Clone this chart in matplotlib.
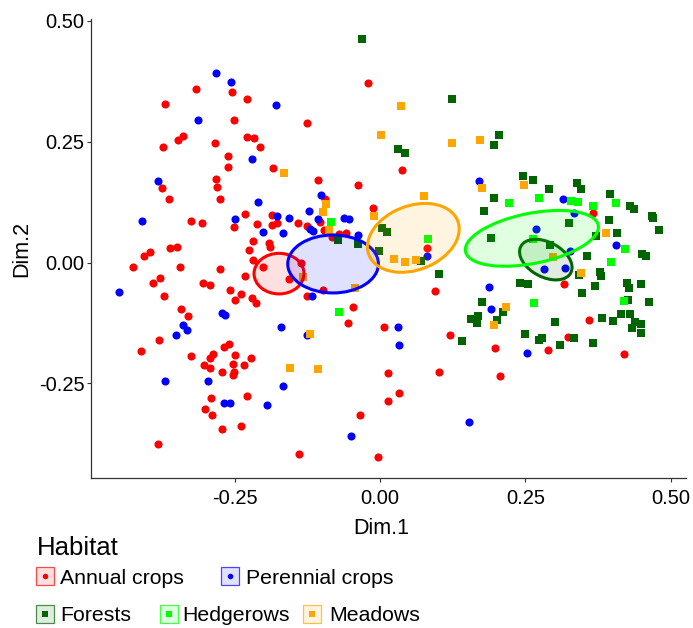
import matplotlib
matplotlib.use("Agg")
import matplotlib.pyplot as plt
from matplotlib.patches import Ellipse, Rectangle
from matplotlib.colors import to_rgba

plt.rcParams['font.family'] = ['Liberation Sans', 'DejaVu Sans']

# ---- data (Dim.1, Dim.2) ----
annual_x = [-0.021, -0.316, -0.255, -0.229, -0.370, -0.252, -0.126, -0.340, -0.347, -0.229,
            -0.217, -0.374, -0.284, -0.207, -0.262, -0.261, -0.184, -0.376, -0.283, -0.280,
            -0.107, -0.038, -0.364, -0.276, -0.095, -0.013, -0.233, -0.186, -0.325, -0.306,
            -0.251, -0.212, -0.186, -0.178, -0.141, -0.103, -0.126, -0.097, -0.082, -0.070,
            -0.059, -0.218, -0.191, -0.190, -0.226, -0.219, -0.362, -0.350, -0.406, -0.396,
            -0.425, -0.345, -0.276, -0.136, -0.202, -0.232, -0.156, -0.391, -0.379, -0.304,
            -0.292, -0.259, -0.240, -0.249, -0.220, -0.213, -0.372, -0.126, -0.099, -0.343,
            -0.330, -0.047, -0.056, 0.007, -0.381, -0.411, -0.326, -0.268, -0.260, -0.288,
            -0.293, -0.250, -0.222, -0.303, -0.292, -0.253, -0.235, -0.272, -0.252, -0.253,
            0.014, -0.291, -0.229, -0.302, -0.289, 0.013, -0.034, -0.272, -0.240, -0.383,
            -0.140, -0.004, 0.037, 0.080, 0.366, 0.316, 0.094, 0.360, 0.121, 0.198,
            0.324, 0.288, 0.420, 0.102, 0.206, 0.033]
annual_y = [0.371, 0.360, 0.353, 0.338, 0.328, 0.295, 0.289, 0.262, 0.254, 0.260,
            0.257, 0.239, 0.247, 0.239, 0.220, 0.197, 0.196, 0.154, 0.173, 0.157,
            0.171, 0.160, 0.131, 0.131, 0.132, 0.113, 0.101, 0.098, 0.086, 0.081,
            0.074, 0.079, 0.078, 0.081, 0.081, 0.083, 0.075, 0.068, 0.052, 0.059,
            0.061, 0.045, 0.040, 0.032, 0.026, 0.006, 0.030, 0.033, 0.014, 0.021,
            -0.010, -0.010, -0.014, -0.001, -0.010, -0.027, -0.034, -0.043, -0.033, -0.043,
            -0.047, -0.056, -0.066, -0.077, -0.073, -0.083, -0.070, -0.070, -0.057, -0.096,
            -0.111, -0.092, -0.125, -0.133, -0.160, -0.184, -0.193, -0.175, -0.168, -0.189,
            -0.198, -0.191, -0.198, -0.213, -0.219, -0.211, -0.212, -0.227, -0.226, -0.233,
            -0.228, -0.281, -0.277, -0.304, -0.315, -0.286, -0.315, -0.345, -0.338, -0.375,
            -0.397, -0.403, 0.191, 0.031, 0.103, -0.045, -0.059, -0.120, -0.151, -0.176,
            -0.154, -0.182, -0.189, -0.226, -0.234, -0.271]

perennial_x = [-0.282, -0.256, -0.179, -0.314, -0.220, -0.382, -0.102, -0.210, -0.178, -0.123,
               -0.156, -0.410, -0.249, -0.107, -0.063, -0.053, -0.120, -0.116, -0.038, -0.202,
               -0.168, -0.449, -0.117, -0.272, -0.267, -0.340, -0.332, -0.352, -0.170, -0.125,
               -0.370, -0.296, -0.168, -0.269, -0.258, -0.194, -0.051, 0.170, 0.314, 0.334,
               0.268, 0.080, 0.326, 0.282, 0.318, 0.406, 0.187, 0.191, 0.030, 0.032,
               0.253, 0.152]
perennial_y = [0.393, 0.374, 0.326, 0.294, 0.214, 0.169, 0.140, 0.125, 0.096, 0.107,
               0.092, 0.086, 0.090, 0.090, 0.092, 0.090, 0.070, 0.065, 0.057, 0.064,
               0.061, -0.061, -0.070, -0.105, -0.108, -0.130, -0.140, -0.151, -0.133, -0.151,
               -0.246, -0.245, -0.255, -0.290, -0.290, -0.295, -0.360, 0.169, 0.132, 0.102,
               0.070, 0.014, 0.024, -0.014, -0.012, 0.036, -0.050, -0.096, -0.133, -0.170,
               -0.187, -0.331]

forests_x = [-0.031, -0.072, -0.038, 0.003, 0.012, -0.002, 0.124, 0.204, 0.195, 0.030,
             0.042, 0.245, 0.263, 0.290, 0.339, 0.345, 0.395, 0.195, 0.430, 0.437,
             0.178, 0.467, 0.470, 0.394, 0.325, 0.480, 0.407, 0.372, 0.190, 0.292,
             0.450, 0.457, 0.356, 0.071, 0.101, 0.342, 0.378, 0.380, 0.241, 0.255,
             0.369, 0.424, 0.428, 0.449, 0.347, 0.175, 0.212, 0.426, 0.463, 0.156,
             0.169, 0.166, 0.201, 0.301, 0.381, 0.400, 0.415, 0.429, 0.439, 0.449,
             0.434, 0.448, 0.140, 0.250, 0.274, 0.279, 0.334, 0.309, 0.367]
forests_y = [0.462, 0.047, 0.039, 0.071, 0.063, 0.024, 0.338, 0.264, 0.243, 0.235,
             0.226, 0.180, 0.170, 0.153, 0.165, 0.153, 0.141, 0.133, 0.117, 0.110,
             0.107, 0.097, 0.092, 0.087, 0.081, 0.068, 0.062, 0.055, 0.050, 0.036,
             0.017, 0.014, 0.013, 0.004, -0.023, -0.025, -0.020, -0.027, -0.043, -0.045,
             -0.048, -0.043, -0.053, -0.045, -0.064, -0.081, -0.103, -0.078, -0.082, -0.116,
             -0.110, -0.126, -0.118, -0.123, -0.114, -0.121, -0.106, -0.106, -0.124, -0.127,
             -0.136, -0.145, -0.162, -0.147, -0.160, -0.157, -0.156, -0.171, -0.167]

hedgerows_x = [-0.084, -0.070, 0.221, 0.274, 0.328, 0.341, 0.367, 0.406, 0.082, 0.263,
               0.422, 0.397, 0.265, 0.419]
hedgerows_y = [0.084, -0.103, 0.123, 0.134, 0.127, 0.125, 0.117, 0.123, 0.048, 0.049,
               0.028, 0.002, -0.084, -0.079]

meadows_x = [0.001, -0.165, -0.094, -0.098, -0.011, -0.088, -0.133, -0.043, -0.121, -0.155,
             -0.107, 0.036, 0.124, 0.172, 0.176, 0.247, 0.076, 0.389, 0.297, 0.024,
             0.043, 0.061, 0.345, 0.216, 0.195]
meadows_y = [0.264, 0.186, 0.122, 0.105, 0.097, 0.068, -0.029, -0.052, -0.147, -0.219,
             -0.220, 0.323, 0.248, 0.254, 0.154, 0.160, 0.138, 0.061, 0.012, 0.007,
             0.002, 0.006, -0.022, -0.092, -0.129]

# confidence ellipses: centre, width, height, angle
ell_cx = [-0.174, -0.081, 0.285, 0.261, 0.057]
ell_cy = [-0.023, -0.003, 0.006, 0.050, 0.051]
ell_w = [0.086, 0.156, 0.103, 0.235, 0.170]
ell_h = [0.084, 0.120, 0.068, 0.103, 0.128]
ell_ang = [0, 0, -39.7, 14.4, 34.2]

groups = ["Annual crops", "Perennial crops", "Forests", "Hedgerows", "Meadows"]
colors = ["#FF0000", "#0000FF", "#006400", "#00FF00", "#FFA500"]
markers = ["o", "o", "s", "s", "s"]
xs = [annual_x, perennial_x, forests_x, hedgerows_x, meadows_x]
ys = [annual_y, perennial_y, forests_y, hedgerows_y, meadows_y]

fig = plt.figure(figsize=(6.93, 6.28), dpi=100)
ax = fig.add_axes([0.1317, 0.2389, 0.8589, 0.7308])

for i in range(len(groups)):
    size = 34 if markers[i] == "o" else 27
    ax.scatter(xs[i], ys[i], s=size, c=colors[i], marker=markers[i], linewidths=0, zorder=2)

for i in range(len(groups)):
    e = Ellipse((ell_cx[i], ell_cy[i]), ell_w[i], ell_h[i], angle=ell_ang[i],
                facecolor=to_rgba(colors[i], 0.12), edgecolor=colors[i], lw=2.2, zorder=3)
    ax.add_patch(e)

ax.set_xlim(-0.497, 0.527)
ax.set_ylim(-0.446, 0.504)
ax.set_xticks([-0.25, 0.00, 0.25, 0.50])
ax.set_yticks([-0.25, 0.00, 0.25, 0.50])
ax.set_xticklabels(["-0.25", "0.00", "0.25", "0.50"])
ax.set_yticklabels(["-0.25", "0.00", "0.25", "0.50"])
ax.tick_params(axis='both', labelsize=14.5, length=3, width=0.8, color="#333333")
ax.tick_params(axis='x', pad=5)
ax.tick_params(axis='y', pad=2)
for s in ["top", "right"]:
    ax.spines[s].set_visible(False)
for s in ["left", "bottom"]:
    ax.spines[s].set_color("#333333")
    ax.spines[s].set_linewidth(0.9)
ax.set_xlabel("Dim.1", fontsize=15.5)
ax.xaxis.set_label_coords(0.487, -0.088)
ax.set_ylabel("Dim.2", fontsize=15.5, labelpad=5)

# ---- legend, drawn in pixel coordinates ----
lg = fig.add_axes([0, 0, 1, 1], facecolor="none")
lg.set_xlim(0, 693)
lg.set_ylim(628, 0)
lg.axis("off")
lg.text(37, 555, "Habitat", fontsize=18.5, va="baseline", ha="left")
key_x = [36, 221, 36, 160, 303]
key_y = [576, 576, 613.5, 613.5, 613.5]
text_x = [60, 246, 60, 182, 329]
for i in range(len(groups)):
    lg.add_patch(Rectangle((key_x[i], key_y[i] - 9), 17.5, 18,
                           facecolor=to_rgba(colors[i], 0.12),
                           edgecolor=to_rgba(colors[i], 0.7), lw=0.9))
    lg.scatter([key_x[i] + 8.75], [key_y[i]], s=16, c=colors[i], marker=markers[i], linewidths=0)
    lg.text(text_x[i], key_y[i] + 7.5, groups[i], fontsize=15.3, va="baseline", ha="left")

fig.savefig("out.png", dpi=100)
